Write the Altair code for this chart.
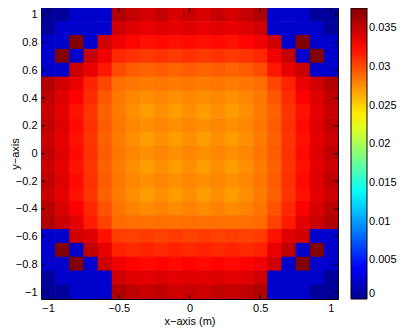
import altair as alt
import pandas as pd

# cell centres (21 x 21 grid, 0.1 m spacing)
x_centers = [-1.0, -0.9, -0.8, -0.7, -0.6, -0.5, -0.4, -0.3, -0.2, -0.1, 0.0,
             0.1, 0.2, 0.3, 0.4, 0.5, 0.6, 0.7, 0.8, 0.9, 1.0]
y_centers = [1.0, 0.9, 0.8, 0.7, 0.6, 0.5, 0.4, 0.3, 0.2, 0.1, 0.0,
             -0.1, -0.2, -0.3, -0.4, -0.5, -0.6, -0.7, -0.8, -0.9, -1.0]

# values, one row per y centre (top row first)
z_rows = [
    [0.0004, 0.0004, 0.0023, 0.0023, 0.0023, 0.0358, 0.0350, 0.0344, 0.0350, 0.0343, 0.0348, 0.0343, 0.0350, 0.0344, 0.0350, 0.0358, 0.0023, 0.0023, 0.0023, 0.0004, 0.0004],
    [0.0004, 0.0023, 0.0023, 0.0023, 0.0023, 0.0346, 0.0340, 0.0337, 0.0340, 0.0337, 0.0340, 0.0337, 0.0340, 0.0337, 0.0340, 0.0346, 0.0023, 0.0023, 0.0023, 0.0023, 0.0004],
    [0.0023, 0.0023, 0.0375, 0.0023, 0.0346, 0.0334, 0.0327, 0.0322, 0.0325, 0.0322, 0.0325, 0.0322, 0.0325, 0.0322, 0.0327, 0.0334, 0.0346, 0.0023, 0.0375, 0.0023, 0.0023],
    [0.0023, 0.0375, 0.0023, 0.0350, 0.0334, 0.0314, 0.0310, 0.0307, 0.0310, 0.0307, 0.0310, 0.0307, 0.0310, 0.0307, 0.0310, 0.0314, 0.0334, 0.0350, 0.0023, 0.0375, 0.0023],
    [0.0023, 0.0023, 0.0348, 0.0337, 0.0320, 0.0300, 0.0294, 0.0291, 0.0294, 0.0291, 0.0294, 0.0291, 0.0294, 0.0291, 0.0294, 0.0300, 0.0320, 0.0337, 0.0348, 0.0023, 0.0023],
    [0.0358, 0.0346, 0.0336, 0.0316, 0.0302, 0.0287, 0.0284, 0.0282, 0.0284, 0.0282, 0.0284, 0.0282, 0.0284, 0.0282, 0.0284, 0.0287, 0.0302, 0.0316, 0.0336, 0.0346, 0.0358],
    [0.0352, 0.0340, 0.0328, 0.0312, 0.0296, 0.0284, 0.0278, 0.0275, 0.0278, 0.0275, 0.0278, 0.0275, 0.0278, 0.0275, 0.0278, 0.0284, 0.0296, 0.0312, 0.0328, 0.0340, 0.0352],
    [0.0348, 0.0338, 0.0322, 0.0309, 0.0292, 0.0282, 0.0275, 0.0270, 0.0275, 0.0270, 0.0275, 0.0270, 0.0275, 0.0270, 0.0275, 0.0282, 0.0292, 0.0309, 0.0322, 0.0338, 0.0348],
    [0.0352, 0.0340, 0.0325, 0.0310, 0.0294, 0.0284, 0.0278, 0.0275, 0.0278, 0.0275, 0.0278, 0.0275, 0.0278, 0.0275, 0.0278, 0.0284, 0.0294, 0.0310, 0.0325, 0.0340, 0.0352],
    [0.0348, 0.0338, 0.0322, 0.0309, 0.0292, 0.0282, 0.0275, 0.0270, 0.0275, 0.0270, 0.0275, 0.0270, 0.0275, 0.0270, 0.0275, 0.0282, 0.0292, 0.0309, 0.0322, 0.0338, 0.0348],
    [0.0352, 0.0340, 0.0325, 0.0310, 0.0294, 0.0284, 0.0278, 0.0275, 0.0278, 0.0275, 0.0278, 0.0275, 0.0278, 0.0275, 0.0278, 0.0284, 0.0294, 0.0310, 0.0325, 0.0340, 0.0352],
    [0.0348, 0.0338, 0.0322, 0.0309, 0.0292, 0.0282, 0.0275, 0.0270, 0.0275, 0.0270, 0.0275, 0.0270, 0.0275, 0.0270, 0.0275, 0.0282, 0.0292, 0.0309, 0.0322, 0.0338, 0.0348],
    [0.0352, 0.0340, 0.0325, 0.0310, 0.0294, 0.0284, 0.0278, 0.0275, 0.0278, 0.0275, 0.0278, 0.0275, 0.0278, 0.0275, 0.0278, 0.0284, 0.0294, 0.0310, 0.0325, 0.0340, 0.0352],
    [0.0348, 0.0338, 0.0322, 0.0309, 0.0292, 0.0282, 0.0275, 0.0270, 0.0275, 0.0270, 0.0275, 0.0270, 0.0275, 0.0270, 0.0275, 0.0282, 0.0292, 0.0309, 0.0322, 0.0338, 0.0348],
    [0.0354, 0.0343, 0.0330, 0.0314, 0.0298, 0.0285, 0.0279, 0.0276, 0.0279, 0.0276, 0.0279, 0.0276, 0.0279, 0.0276, 0.0279, 0.0285, 0.0298, 0.0314, 0.0330, 0.0343, 0.0354],
    [0.0358, 0.0348, 0.0338, 0.0318, 0.0304, 0.0289, 0.0287, 0.0286, 0.0287, 0.0286, 0.0287, 0.0286, 0.0287, 0.0286, 0.0287, 0.0289, 0.0304, 0.0318, 0.0338, 0.0348, 0.0358],
    [0.0023, 0.0023, 0.0346, 0.0340, 0.0322, 0.0306, 0.0304, 0.0306, 0.0304, 0.0306, 0.0304, 0.0306, 0.0304, 0.0306, 0.0304, 0.0306, 0.0322, 0.0340, 0.0346, 0.0023, 0.0023],
    [0.0023, 0.0375, 0.0023, 0.0352, 0.0337, 0.0316, 0.0313, 0.0316, 0.0313, 0.0316, 0.0313, 0.0316, 0.0313, 0.0316, 0.0313, 0.0316, 0.0337, 0.0352, 0.0023, 0.0375, 0.0023],
    [0.0023, 0.0023, 0.0375, 0.0023, 0.0346, 0.0334, 0.0328, 0.0325, 0.0328, 0.0325, 0.0328, 0.0325, 0.0328, 0.0325, 0.0328, 0.0334, 0.0346, 0.0023, 0.0375, 0.0023, 0.0023],
    [0.0004, 0.0023, 0.0023, 0.0023, 0.0023, 0.0346, 0.0340, 0.0339, 0.0341, 0.0339, 0.0340, 0.0339, 0.0341, 0.0339, 0.0340, 0.0346, 0.0023, 0.0023, 0.0023, 0.0023, 0.0004],
    [0.0004, 0.0004, 0.0023, 0.0023, 0.0023, 0.0358, 0.0352, 0.0349, 0.0352, 0.0346, 0.0349, 0.0346, 0.0352, 0.0349, 0.0352, 0.0358, 0.0023, 0.0023, 0.0023, 0.0004, 0.0004],
]

x_ticks = [-1, -0.5, 0, 0.5, 1]
y_ticks = [-1, -0.8, -0.6, -0.4, -0.2, 0, 0.2, 0.4, 0.6, 0.8, 1]
cbar_ticks = [0, 0.005, 0.01, 0.015, 0.02, 0.025, 0.03, 0.035]
cell = 0.1
vmax = 0.0376

records = []
for j, yc in enumerate(y_centers):
    for i, xc in enumerate(x_centers):
        records.append({"x": xc - cell / 2, "x2": xc + cell / 2,
                        "y": yc - cell / 2, "y2": yc + cell / 2,
                        "v": z_rows[j][i]})
df = pd.DataFrame(records)

W, H = 297, 291
FONT = "Liberation Sans"

# jet colour map
jet_stops = [0.0, 0.111, 0.365, 0.619, 0.873, 1.0]
jet_cols = ["#00008f", "#0000ff", "#00ffff", "#ffff00", "#ff0000", "#800000"]
cscale = alt.Scale(domain=[s * vmax for s in jet_stops], range=jet_cols,
                   interpolate="rgb")

xscale = alt.Scale(domain=[-1.05, 1.05], nice=False, zero=False)
yscale = alt.Scale(domain=[-1.05, 1.05], nice=False, zero=False)
xaxis = alt.Axis(values=x_ticks, format="~g", title="x\u2212axis (m)",
                 labelPadding=3, titlePadding=2)
yaxis = alt.Axis(values=y_ticks, format="~g", title="y\u2212axis",
                 labelPadding=4, titleX=-23, titleY=H / 2,
                 titleBaseline="alphabetic", titleAngle=270)

heat = alt.Chart(df).mark_rect(x2Offset=0.7, y2Offset=-0.7, clip=True).encode(
    x=alt.X("x:Q", scale=xscale, axis=xaxis),
    x2="x2:Q",
    y=alt.Y("y:Q", scale=yscale, axis=yaxis),
    y2="y2:Q",
    color=alt.Color("v:Q", scale=cscale,
                    legend=alt.Legend(type="gradient", direction="vertical",
                                      values=cbar_ticks, format=".2~g", title=None,
                                      orient="none", legendX=310, legendY=0,
                                      gradientLength=H, gradientThickness=16,
                                      gradientStrokeColor="black",
                                      gradientStrokeWidth=1,
                                      labelOffset=2, labelFontSize=11,
                                      labelBaseline="middle",
                                      labelFont=FONT, labelColor="black")),
)

xt = pd.DataFrame({"t": x_ticks})
yt = pd.DataFrame({"t": y_ticks})
tl = 4
x_bot = alt.Chart(xt).mark_rule(color="black").encode(
    x=alt.X("t:Q", scale=xscale, axis=xaxis), y=alt.value(H), y2=alt.value(H - tl))
x_top = alt.Chart(xt).mark_rule(color="black").encode(
    x=alt.X("t:Q", scale=xscale, axis=xaxis), y=alt.value(0), y2=alt.value(tl))
y_left = alt.Chart(yt).mark_rule(color="black").encode(
    y=alt.Y("t:Q", scale=yscale, axis=yaxis), x=alt.value(0), x2=alt.value(tl))
y_right = alt.Chart(yt).mark_rule(color="black").encode(
    y=alt.Y("t:Q", scale=yscale, axis=yaxis), x=alt.value(W - tl), x2=alt.value(W))

chart = alt.layer(heat, x_bot, x_top, y_left, y_right).properties(
    width=W, height=H,
    autosize=alt.AutoSizeParams(type="none"),
    padding={"left": 33, "top": 0, "right": 70, "bottom": 29},
).configure_view(stroke="black", strokeWidth=1).configure_axis(
    domain=False, grid=False, ticks=False,
    labelFont=FONT, labelFontSize=11, labelColor="black",
    titleFont=FONT, titleFontSize=11, titleFontWeight="normal", titleColor="black",
).configure_legend(padding=0)

chart.save("out.html", embed_options={"renderer": "svg", "actions": False})
